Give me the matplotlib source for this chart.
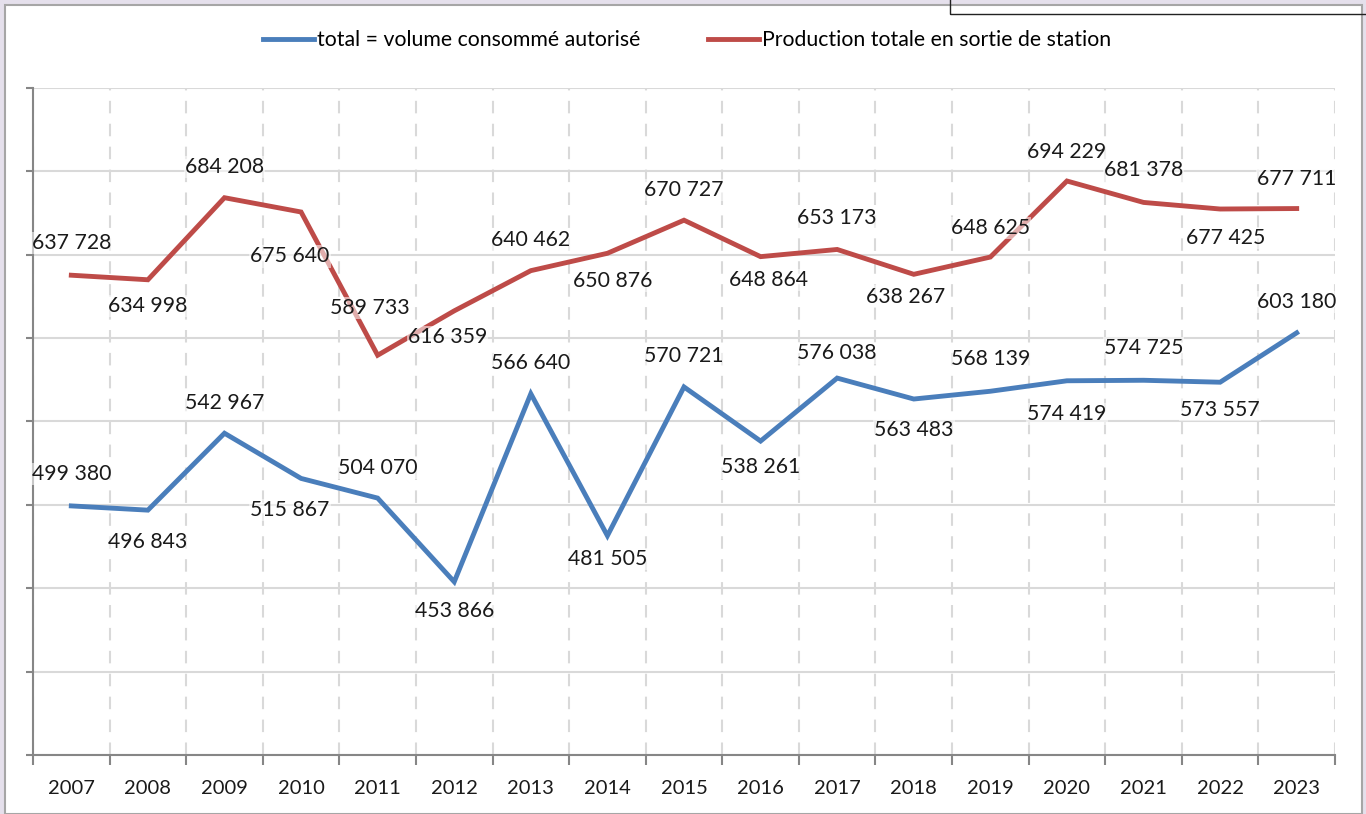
import numpy as np
import matplotlib
matplotlib.use("Agg")
import matplotlib.pyplot as plt
from matplotlib.patches import Rectangle

plt.rcParams["font.family"] = ["Lato", "DejaVu Sans"]

# Data
years = ["2007", "2008", "2009", "2010", "2011", "2012", "2013", "2014", "2015",
         "2016", "2017", "2018", "2019", "2020", "2021", "2022", "2023"]
consumed = [499380, 496843, 542967, 515867, 504070, 453866, 566640, 481505, 570721,
            538261, 576038, 563483, 568139, 574419, 574725, 573557, 603180]
produced = [637728, 634998, 684208, 675640, 589733, 616359, 640462, 650876, 670727,
            648864, 653173, 638267, 648625, 694229, 681378, 677425, 677711]
label_consumed = "total = volume consommé autorisé"
label_produced = "Production totale en sortie de station"

# label placement (offset in points: dx, dy)
off_consumed = [(0, 23), (0, -23), (0, 22), (-8, -23), (0, 22), (0, -21), (0, 22), (0, -17),
                (0, 22), (0, -19), (0, 18), (0, -22), (0, 23), (0, -24), (0, 23), (0, -20), (0, 22)]
off_produced = [(0, 23), (0, -19), (0, 22), (-8, -32), (-6, 34), (-5, -19), (0, 22), (4, -20),
                (0, 22), (6, -17), (0, 23), (-6, -16), (0, 21), (0, 21), (0, 23), (4, -21), (0, 21)]

BLUE = "#4a7ebb"
RED = "#be4b48"

fig = plt.figure(figsize=(13.66, 8.14), dpi=100, facecolor="#e5e0ec")
fig.patches.append(Rectangle((5 / 1366, 0), 1357 / 1366, 809 / 814, transform=fig.transFigure,
                             facecolor="white", edgecolor="#a6a6a6", linewidth=1.5, zorder=-2))
fig.patches.append(Rectangle((950 / 1366, 800 / 814), 0.5, 0.1, transform=fig.transFigure,
                             facecolor="none", edgecolor="#222222", linewidth=1.0, zorder=-1))

ax = fig.add_axes([33 / 1366, (814 - 755) / 814, 1302 / 1366, 667 / 814])
ax.set_facecolor("none")
x = np.arange(len(years))

ax.plot(x, consumed, color=BLUE, lw=3.5, solid_joinstyle="miter", label=label_consumed, zorder=3)
ax.plot(x, produced, color=RED, lw=3.5, solid_joinstyle="miter", label=label_produced, zorder=3)

for xs, vals, offs in [(x, consumed, off_consumed), (x, produced, off_produced)]:
    for xi, v, (dx, dy) in zip(xs, vals, offs):
        ax.annotate(f"{v:,}".replace(",", " "), (xi, v), xytext=(dx, dy),
                    textcoords="offset points", ha="center", va="center",
                    fontsize=15.3, color="#1a1a1a", zorder=4,
                    bbox=dict(boxstyle="square,pad=0.05", facecolor="white",
                              edgecolor="none", alpha=0.55))

ax.set_xlim(-0.5, len(years) - 0.5)
ax.set_ylim(350000, 750000)
ax.set_yticks(np.arange(350000, 750001, 50000))
ax.set_yticklabels([])
ax.set_xticks(x)
ax.set_xticklabels(years, fontsize=14.5, color="#1a1a1a")
ax.set_xticks(np.arange(-0.5, len(years), 1), minor=True)
ax.tick_params(axis="x", which="major", length=0, pad=18)
ax.tick_params(axis="x", which="minor", length=7, width=1.5, color="#868686")
ax.tick_params(axis="y", length=5, width=1.5, color="#868686")

ax.grid(axis="y", color="#d9d9d9", lw=1.5)
ax.grid(axis="x", which="minor", color="#d9d9d9", lw=1.5, linestyle=(0, (6, 5)))
ax.set_axisbelow(True)
for s in ["top", "right"]:
    ax.spines[s].set_visible(False)
for s in ["left", "bottom"]:
    ax.spines[s].set_color("#868686")
    ax.spines[s].set_linewidth(1.5)

fig.legend(loc="center", bbox_to_anchor=(0.503, 1 - 40 / 814), ncol=2, frameon=False,
           fontsize=15.3, handlelength=2.4, handletextpad=0.15, columnspacing=3.2)

fig.savefig("out.png", dpi=100, facecolor=fig.get_facecolor())
